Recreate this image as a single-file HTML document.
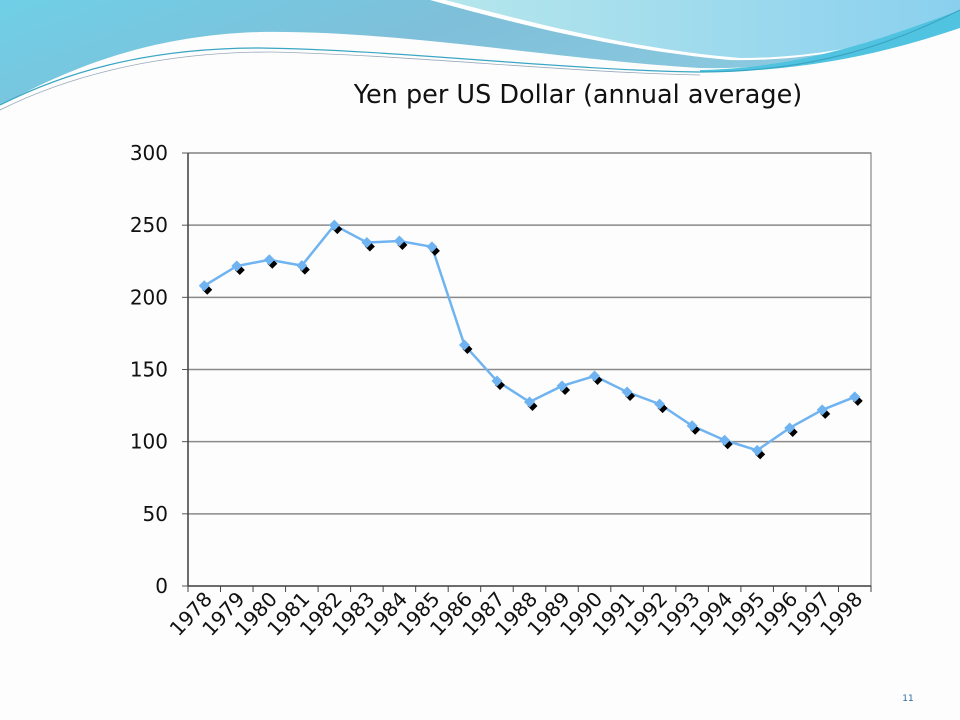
<!DOCTYPE html>
<html><head><meta charset="utf-8"><style>
body{margin:0;background:#fff;}
#wrap{position:relative;width:960px;height:720px;overflow:hidden;background:#fdfdfd;font-family:"DejaVu Sans","Liberation Sans",sans-serif;}
</style></head><body>
<div id="wrap">
<svg width="960" height="720" id="svg">
<defs>
<linearGradient id="g1" x1="0" y1="0" x2="1" y2="0.3"><stop offset="0" stop-color="#6fcfe6"/><stop offset="0.5" stop-color="#7fbfd9"/><stop offset="1" stop-color="#8ccbe0"/></linearGradient>
<linearGradient id="g2" x1="0" y1="0" x2="1" y2="0"><stop offset="0" stop-color="#b5e6ec"/><stop offset="1" stop-color="#8ad0ee"/></linearGradient>
</defs>
<g>
<path d="M0,0 H960 V20 C880,50 800,70 700,68 C560,60 400,30 260,32 C130,36 50,80 0,105 Z" fill="url(#g1)"/>
<path d="M430,0 H960 V20 C900,40 820,62 730,60 C620,50 520,25 430,0 Z" fill="#fff"/>
<path d="M445,0 H960 V18 C900,38 830,58 740,58 C640,50 540,25 445,0 Z" fill="url(#g2)"/>
<path d="M700,70 C800,68 880,40 960,10 V28 C880,55 800,72 700,72 Z" fill="#4fc3e0"/>
<path d="M0,105 C60,75 140,48 260,48 C400,50 560,70 700,72 C820,72 900,40 960,10" fill="none" stroke="#3aa6c4" stroke-width="1.2"/>
<path d="M0,110 C60,80 150,52 270,52 C410,55 560,72 700,75" fill="none" stroke="#9ab" stroke-width="0.8"/>
</g>
<text x="578" y="103" text-anchor="middle" font-size="25.5" fill="#111">Yen per US Dollar (annual average)</text>
<g id="plot"></g>
<text x="908" y="701" text-anchor="middle" font-size="9" fill="#2a6aa0">11</text>
</svg>
</div>
<script>
const years=["1978","1979","1980","1981","1982","1983","1984","1985","1986","1987","1988","1989","1990","1991","1992","1993","1994","1995","1996","1997","1998"];
const yen=[208,221.7,226,222,250,238,239,235,167,142,127.5,138.6,145.5,134.4,126,111,101,94,109.5,122,131];
const yTicks=[0,50,100,150,200,250,300];
const L=188,R=871,T=153,B=586,yMax=300;
const NS="http://www.w3.org/2000/svg";
const g=document.getElementById('plot');
function y(v){return B-(v/yMax)*(B-T);}
const bw=(R-L)/years.length;
function x(i){return L+bw*(i+0.5);}
function mk(t,a,p){const e=document.createElementNS(NS,t);for(const k in a)e.setAttribute(k,a[k]);(p||g).appendChild(e);return e;}
yTicks.forEach(v=>{
  if(v>0){const l=mk('line',{x1:L,x2:R,y1:y(v),y2:y(v),stroke:'#8a8a8a','stroke-width':1.5});
  
  }
  const t=mk('text',{x:L-20,y:y(v)+7,'text-anchor':'end','font-size':20,fill:'#111'});t.textContent=v;
  
  
  mk('line',{x1:L-6,x2:L,y1:y(v),y2:y(v),stroke:'#555'});
});
const fr=mk('rect',{x:L,y:T,width:R-L,height:B-T,fill:'none',stroke:'#888','stroke-width':1.2});


mk('line',{x1:L,x2:L,y1:T,y2:B,stroke:'#444','stroke-width':1.5});
mk('line',{x1:L,x2:R,y1:B,y2:B,stroke:'#444','stroke-width':1.5});
for(let i=0;i<=years.length;i++){const xx=L+bw*i;mk('line',{x1:xx,x2:xx,y1:B,y2:B+6,stroke:'#444'});}
years.forEach((yr,i)=>{
  const t=mk('text',{x:0,y:0,'text-anchor':'end','font-size':20,fill:'#111',transform:`translate(${x(i)+9},${B+14}) rotate(-47)`});
  t.textContent=yr;
  
  
});
const pts=yen.map((v,i)=>x(i)+','+y(v)).join(' ');
const line=mk('polyline',{points:pts,fill:'none',stroke:'#6fb4f0','stroke-width':2.5});


yen.forEach((v,i)=>{
  const cx=x(i)+3,cy=y(v)+4;
  mk('polygon',{points:`${cx},${cy-5} ${cx+5},${cy} ${cx},${cy+5} ${cx-5},${cy}`,fill:'#000'});
  const px=x(i),py=y(v);
  const d=mk('polygon',{points:`${px},${py-5.5} ${px+5.5},${py} ${px},${py+5.5} ${px-5.5},${py}`,fill:'#6fb4f0'});
  
  
});
</script>
</body></html>
